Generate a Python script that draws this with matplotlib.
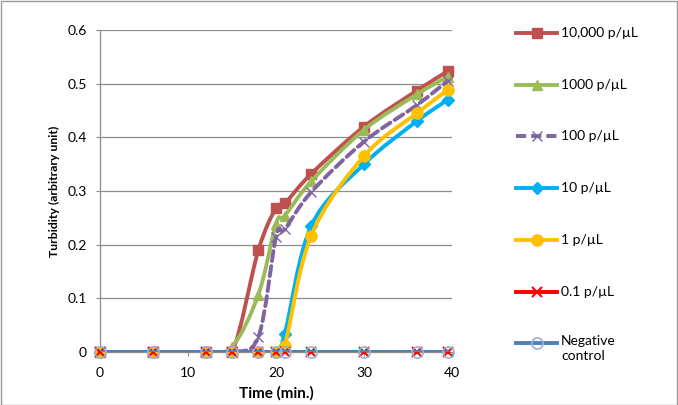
import matplotlib
matplotlib.use('Agg')
import matplotlib.pyplot as plt
import numpy as np
from matplotlib.path import Path
from matplotlib.patches import PathPatch, Rectangle
from matplotlib.lines import Line2D

# ===============================================
# data
# ===============================================
time = [0, 6, 12, 15, 18, 20, 21, 24, 30, 36, 39.5]

c10000 = [0, 0, 0, 0, 0.19, 0.268, 0.277, 0.332, 0.42, 0.487, 0.523]
c1000 = [0, 0, 0, 0.01, 0.107, 0.239, 0.254, 0.318, 0.414, 0.48, 0.513]
c100 = [0, 0, 0, 0, 0.028, 0.214, 0.229, 0.298, 0.392, 0.46, 0.505]
c10 = [0, 0, 0, 0, 0, 0, 0.034, 0.235, 0.35, 0.43, 0.47]
c1 = [0, 0, 0, 0, 0, 0, 0.012, 0.217, 0.365, 0.445, 0.488]
c01 = [0, 0, 0, 0, 0, 0, 0, 0, 0, 0, 0]
cneg = [0, 0, 0, 0, 0, 0, 0, 0, 0, 0, 0]

labels = ['10,000 p/\u00b5L', '1000 p/\u00b5L', '100 p/\u00b5L', '10 p/\u00b5L',
          '1 p/\u00b5L', '0.1 p/\u00b5L', 'Negative\ncontrol']
series = [c10000, c1000, c100, c10, c1, c01, cneg]

xticks = [0, 10, 20, 30, 40]
yticks = [0, 0.1, 0.2, 0.3, 0.4, 0.5, 0.6]
ytick_labels = ['0', '0.1', '0.2', '0.3', '0.4', '0.5', '0.6']

dash = (0, (2.6, 1.3))

# line style for each series
styles = [
    dict(color='#C0504D', ls='-', marker='s', ms=7.5, mfc='#C0504D', mec='#C0504D', mew=1),
    dict(color='#9BBB59', ls='-', marker='^', ms=7.5, mfc='#9BBB59', mec='#9BBB59', mew=1),
    dict(color='#8064A2', ls=dash, marker='x', ms=7.5, mfc='#8064A2', mec='#8064A2', mew=1),
    dict(color='#00B0F0', ls='-', marker='D', ms=6.5, mfc='#00B0F0', mec='#00B0F0', mew=1),
    dict(color='#FFC000', ls='-', marker='o', ms=8, mfc='#FFC000', mec='#FFC000', mew=1),
    dict(color='#FF0000', ls='-', marker='x', ms=7, mfc='#FF0000', mec='#FF0000', mew=1.5),
    dict(color='#4F81BD', ls='-', marker='o', ms=8, mfc='none', mec='#95B3D7', mew=1.2),
]

plt.rcParams['font.family'] = ['Lato', 'DejaVu Sans']
plt.rcParams['font.size'] = 10


def smooth_path(x, y):
    """ Excel-like smoothed line: cubic bezier segments through the points """
    p = np.column_stack([x, y]).astype(float)
    n = len(p)
    verts = [p[0]]
    codes = [Path.MOVETO]
    for i in range(n - 1):
        p0 = p[i - 1] if i > 0 else p[i]
        p3 = p[i + 2] if i + 2 < n else p[i + 1]
        c1 = p[i] + (p[i + 1] - p0) / 6.0
        c2 = p[i + 1] - (p3 - p[i]) / 6.0
        verts += [c1, c2, p[i + 1]]
        codes += [Path.CURVE4] * 3
    return Path(verts, codes)


# ===============================================
# figure
# ===============================================
fig = plt.figure(figsize=(6.78, 4.05), dpi=100)
ax = fig.add_axes([100 / 678, 53 / 405, 352 / 678, 322 / 405])

for k, (y, st) in enumerate(zip(series, styles)):
    z = 2 + k
    patch = PathPatch(smooth_path(time, y), facecolor='none', edgecolor=st['color'],
                      lw=2.8, ls=st['ls'], zorder=z, capstyle='round')
    ax.add_patch(patch)
    ax.plot(time, y, ls='none', marker=st['marker'], ms=st['ms'], mfc=st['mfc'],
            mec=st['mec'], mew=st['mew'], zorder=z + 0.5, clip_on=False)

ax.set_xlim(0, 40)
ax.set_ylim(0, 0.6)
ax.set_xticks(xticks)
ax.set_yticks(yticks)
ax.set_yticklabels(ytick_labels)
ax.grid(axis='y', color='#8C8C8C', lw=0.9)
ax.set_axisbelow(True)
for s in ['top', 'right']:
    ax.spines[s].set_visible(False)
for s in ['left', 'bottom']:
    ax.spines[s].set_color('#8C8C8C')
    ax.spines[s].set_linewidth(0.9)
ax.tick_params(direction='out', length=3, color='#8C8C8C', labelsize=10)
ax.tick_params(axis='y', pad=6.5)
ax.tick_params(axis='x', pad=8)
ax.set_xlabel('Time (min.)', fontweight='bold', fontsize=11, labelpad=5)
ax.set_ylabel('Turbidity (arbitrary unit)', fontweight='bold', fontsize=8.8, labelpad=5)

# legend drawn by hand so the rows keep Excel's even spacing
W, H = 678.0, 405.0
for i, (label, st) in enumerate(zip(labels, styles)):
    yy = 1 - (33 + i * 51.7) / H
    fig.add_artist(Line2D([516 / W, 557 / W], [yy, yy], color=st['color'], lw=2.8,
                          ls=st['ls'], transform=fig.transFigure))
    fig.add_artist(Line2D([536.5 / W], [yy], ls='none', marker=st['marker'], ms=st['ms'],
                          mfc=st['mfc'], mec=st['mec'], mew=st['mew'],
                          transform=fig.transFigure))
    if '\n' in label:
        fig.text(561 / W, yy + 8 / H, label, ha='left', va='top', fontsize=10,
                 linespacing=1.3)
    else:
        fig.text(561 / W, yy, label, ha='left', va='center', fontsize=10)

# chart area border
fig.add_artist(Rectangle((0.5 / W, 0.5 / H), 1 - 1.5 / W, 1 - 1.5 / H, fill=False,
                         edgecolor='#9A9A9A', lw=1, transform=fig.transFigure))

fig.savefig('out.png', dpi=100)
